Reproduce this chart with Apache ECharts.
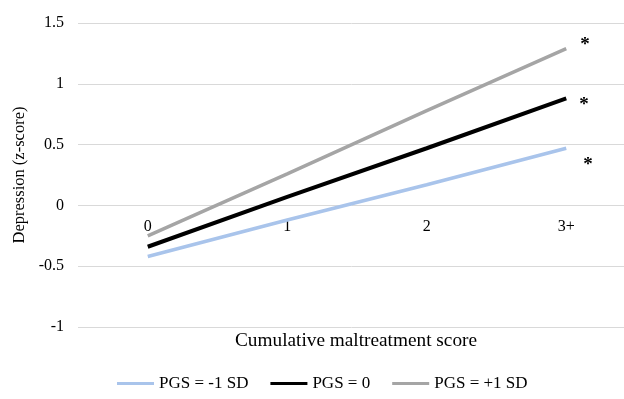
<!DOCTYPE html>
<html><head><meta charset="utf-8">
<script src="https://cdn.jsdelivr.net/npm/echarts@6/dist/echarts.min.js"></script>
<style>html,body{margin:0;padding:0;background:#fff}#c{width:624px;height:399px}</style>
</head><body><div id="c"></div>
<script>
const categories = ['0', '1', '2', '3+'];
const pgsMinus1 = [-0.42, -0.12, 0.17, 0.47];
const pgsZero = [-0.34, 0.07, 0.47, 0.88];
const pgsPlus1 = [-0.25, 0.26, 0.78, 1.29];
const seriesNames = ['PGS = -1 SD', 'PGS = 0', 'PGS = +1 SD'];
const significance = ['*', '*', '*'];
const yTicks = { min: -1, max: 1.5, interval: 0.5 };
const xTitle = 'Cumulative maltreatment score';
const yTitle = 'Depression (z-score)';

const FONT = 'Liberation Serif';
const GRID_TOP = 23, GRID_H = 304;
// distance from the grid bottom up to the y = 0 line, so the category labels sit on the zero line
const zeroOffset = GRID_H * (0 - yTicks.min) / (yTicks.max - yTicks.min);
const chart = echarts.init(document.getElementById('c'));
function star(text, offset) {
  return { show: true, formatter: text, offset: offset, distance: 5,
    fontFamily: FONT, fontSize: 19, fontWeight: 'bold', color: '#000' };
}
chart.setOption({
  animation: false,
  textStyle: { fontFamily: FONT },
  grid: { left: 78, width: 558, top: GRID_TOP, height: GRID_H, outerBoundsMode: 'none', containLabel: false },
  xAxis: {
    type: 'category', data: categories, boundaryGap: true, offset: -zeroOffset,
    axisLine: { show: false, onZero: false },
    axisTick: { show: false },
    axisLabel: { color: '#000', fontFamily: FONT, fontSize: 16, margin: 13 }
  },
  yAxis: {
    type: 'value', min: yTicks.min, max: yTicks.max, interval: yTicks.interval,
    name: yTitle, nameLocation: 'middle', nameGap: 40, nameRotate: 90,
    nameTextStyle: { color: '#000', fontFamily: FONT, fontSize: 16.5 },
    axisLine: { show: false }, axisTick: { show: false },
    axisLabel: { color: '#000', fontFamily: FONT, fontSize: 16, margin: 14 },
    splitLine: { lineStyle: { color: '#d9d9d9', width: 1 } }
  },
  legend: {
    bottom: 2, left: 112, itemGap: 22, itemWidth: 37, itemHeight: 3, icon: 'rect',
    textStyle: { color: '#000', fontFamily: FONT, fontSize: 17 },
    data: seriesNames
  },
  graphic: [{
    type: 'text', left: 235, top: 331,
    style: { text: xTitle, fill: '#000', font: '19.3px "Liberation Serif"' }
  }],
  series: [
    { name: seriesNames[0], type: 'line', data: pgsMinus1, symbol: 'none',
      endLabel: star(significance[0], [12, 17]),
      lineStyle: { color: '#a9c4eb', width: 3.5 }, itemStyle: { color: '#a9c4eb' } },
    { name: seriesNames[1], type: 'line', data: pgsZero, symbol: 'none',
      endLabel: star(significance[1], [8, 7]),
      lineStyle: { color: '#000', width: 4 }, itemStyle: { color: '#000' } },
    { name: seriesNames[2], type: 'line', data: pgsPlus1, symbol: 'none',
      endLabel: star(significance[2], [9, -3]),
      lineStyle: { color: '#a5a5a5', width: 3.5 }, itemStyle: { color: '#a5a5a5' } }
  ]
});
</script></body></html>
